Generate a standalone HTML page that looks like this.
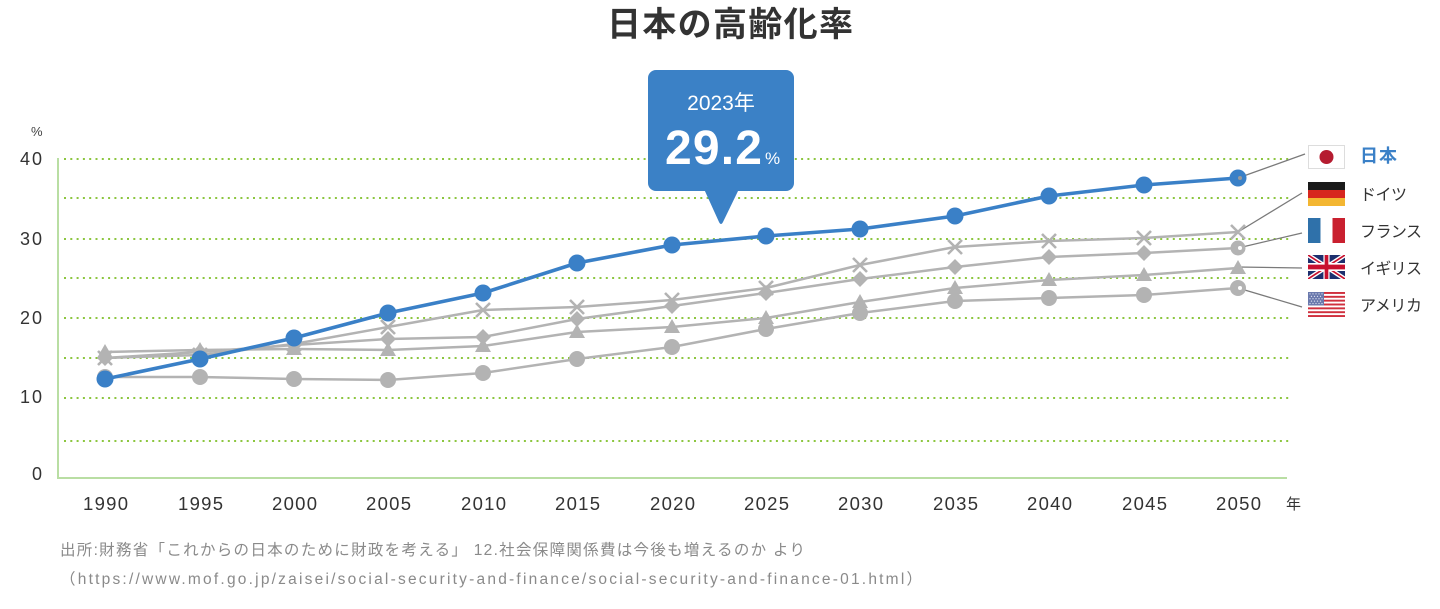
<!DOCTYPE html>
<html lang="ja">
<head>
<meta charset="utf-8">
<style>
  html,body{margin:0;padding:0;background:#fff;}
  body{width:1440px;height:609px;overflow:hidden;}
  svg{display:block;}
  text{font-family:"Liberation Sans","Noto Sans CJK JP",sans-serif;}
</style>
</head>
<body>
<svg width="1440" height="609" viewBox="0 0 1440 609" xmlns="http://www.w3.org/2000/svg">
  <!-- Title -->
  <text x="607" y="36" font-size="34" font-weight="bold" fill="#333" textLength="246" lengthAdjust="spacing">日本の高齢化率</text>

  <!-- gridlines -->
  <g stroke="#8cc63f" stroke-width="2" stroke-dasharray="2 4.3" fill="none">
    <line x1="64" y1="159" x2="1290" y2="159"/>
    <line x1="64" y1="198" x2="1290" y2="198"/>
    <line x1="64" y1="239" x2="1290" y2="239"/>
    <line x1="64" y1="278" x2="1290" y2="278"/>
    <line x1="64" y1="318" x2="1290" y2="318"/>
    <line x1="64" y1="358" x2="1290" y2="358"/>
    <line x1="64" y1="398" x2="1290" y2="398"/>
    <line x1="64" y1="441" x2="1290" y2="441"/>
  </g>
  <!-- axes -->
  <g stroke="#b9dea3" stroke-width="2" fill="none">
    <line x1="58" y1="158" x2="58" y2="478"/>
    <line x1="57" y1="478" x2="1287" y2="478"/>
  </g>

  <!-- Y labels -->
  <g font-size="18" fill="#333">
    <text x="31" y="136" font-size="13" fill="#444">%</text>
    <text x="20" y="165" textLength="22" lengthAdjust="spacing">40</text>
    <text x="20" y="245" textLength="22" lengthAdjust="spacing">30</text>
    <text x="20" y="324" textLength="22" lengthAdjust="spacing">20</text>
    <text x="20" y="403" textLength="22" lengthAdjust="spacing">10</text>
    <text x="32" y="480">0</text>
  </g>

  <!-- X labels -->
  <g font-size="18.5" fill="#333">
    <text x="83" y="510" textLength="45" lengthAdjust="spacing">1990</text>
    <text x="178" y="510" textLength="45" lengthAdjust="spacing">1995</text>
    <text x="272" y="510" textLength="45" lengthAdjust="spacing">2000</text>
    <text x="366" y="510" textLength="45" lengthAdjust="spacing">2005</text>
    <text x="461" y="510" textLength="45" lengthAdjust="spacing">2010</text>
    <text x="555" y="510" textLength="45" lengthAdjust="spacing">2015</text>
    <text x="650" y="510" textLength="45" lengthAdjust="spacing">2020</text>
    <text x="744" y="510" textLength="45" lengthAdjust="spacing">2025</text>
    <text x="838" y="510" textLength="45" lengthAdjust="spacing">2030</text>
    <text x="933" y="510" textLength="45" lengthAdjust="spacing">2035</text>
    <text x="1027" y="510" textLength="45" lengthAdjust="spacing">2040</text>
    <text x="1122" y="510" textLength="45" lengthAdjust="spacing">2045</text>
    <text x="1216" y="510" textLength="45" lengthAdjust="spacing">2050</text>
    <text x="1286" y="509" font-size="15">年</text>
  </g>

  <!-- connectors -->
  <g stroke="#7a7a7a" stroke-width="1.3" fill="none">
    <line x1="1238" y1="178" x2="1305" y2="154"/>
    <line x1="1238" y1="232" x2="1302" y2="193"/>
    <line x1="1238" y1="248" x2="1302" y2="233"/>
    <line x1="1238" y1="267" x2="1302" y2="268"/>
    <line x1="1238" y1="288" x2="1302" y2="307"/>
  </g>

  <!-- gray lines -->
  <g stroke="#b3b3b3" stroke-width="2.5" fill="none" stroke-linejoin="round">
    <polyline points="105,377 200,377 294,379 388,380 483,373 577,359 672,347 766,329 860,313 955,301 1049,298 1144,295 1238,288"/>
    <polyline points="105,352 200,350 294,349 388,350 483,346 577,332 672,327 766,318 860,302 955,288 1049,280 1144,275 1238,268"/>
    <polyline points="105,358 200,352 294,345 388,339 483,337 577,319 672,306 766,293 860,279 955,267 1049,257 1144,253 1238,248"/>
    <polyline points="105,358 200,355 294,344 388,327 483,310 577,307 672,300 766,288 860,265 955,247 1049,241 1144,238 1238,232"/>
  </g>

  <!-- USA markers -->
  <g fill="#b3b3b3">
    <circle cx="105" cy="377" r="8"/><circle cx="200" cy="377" r="8"/><circle cx="294" cy="379" r="8"/>
    <circle cx="388" cy="380" r="8"/><circle cx="483" cy="373" r="8"/><circle cx="577" cy="359" r="8"/>
    <circle cx="672" cy="347" r="8"/><circle cx="766" cy="329" r="8"/><circle cx="860" cy="313" r="8"/>
    <circle cx="955" cy="301" r="8"/><circle cx="1049" cy="298" r="8"/><circle cx="1144" cy="295" r="8"/>
    <circle cx="1238" cy="288" r="8"/>
  </g>
  <!-- UK markers -->
  <path fill="#b3b3b3" d="M105 344l8 14h-16zM200 342l8 14h-16zM294 341l8 14h-16zM388 342l8 14h-16zM483 338l8 14h-16zM577 324l8 14h-16zM672 319l8 14h-16zM766 310l8 14h-16zM860 294l8 14h-16zM955 280l8 14h-16zM1049 272l8 14h-16zM1144 267l8 14h-16zM1238 260l8 14h-16z"/>
  <!-- France markers -->
  <path fill="#b3b3b3" d="M105 350l8 8l-8 8l-8-8zM200 344l8 8l-8 8l-8-8zM294 337l8 8l-8 8l-8-8zM388 331l8 8l-8 8l-8-8zM483 329l8 8l-8 8l-8-8zM577 311l8 8l-8 8l-8-8zM672 298l8 8l-8 8l-8-8zM766 285l8 8l-8 8l-8-8zM860 271l8 8l-8 8l-8-8zM955 259l8 8l-8 8l-8-8zM1049 249l8 8l-8 8l-8-8zM1144 245l8 8l-8 8l-8-8z"/>
  <circle cx="1238" cy="248" r="7.5" fill="#b3b3b3"/>
  <!-- Germany markers -->
  <path stroke="#b3b3b3" stroke-width="2.6" fill="none" d="M98 351l14 14m0-14l-14 14M193 348l14 14m0-14l-14 14M287 337l14 14m0-14l-14 14M381 320l14 14m0-14l-14 14M476 303l14 14m0-14l-14 14M570 300l14 14m0-14l-14 14M665 293l14 14m0-14l-14 14M759 281l14 14m0-14l-14 14M853 258l14 14m0-14l-14 14M948 240l14 14m0-14l-14 14M1042 234l14 14m0-14l-14 14M1137 231l14 14m0-14l-14 14M1231 225l14 14m0-14l-14 14"/>

  <g fill="#fff">
    <circle cx="1240" cy="248" r="2"/>
    <circle cx="1240" cy="288" r="2"/>
  </g>

  <!-- Japan -->
  <polyline fill="none" stroke="#3a80c7" stroke-width="3.6" stroke-linejoin="round"
    points="105,379 200,359 294,338 388,313 483,293 577,263 672,245 766,236 860,229 955,216 1049,196 1144,185 1238,178"/>
  <g fill="#3a80c7">
    <circle cx="105" cy="379" r="8.5"/><circle cx="200" cy="359" r="8.5"/><circle cx="294" cy="338" r="8.5"/>
    <circle cx="388" cy="313" r="8.5"/><circle cx="483" cy="293" r="8.5"/><circle cx="577" cy="263" r="8.5"/>
    <circle cx="672" cy="245" r="8.5"/><circle cx="766" cy="236" r="8.5"/><circle cx="860" cy="229" r="8.5"/>
    <circle cx="955" cy="216" r="8.5"/><circle cx="1049" cy="196" r="8.5"/><circle cx="1144" cy="185" r="8.5"/>
    <circle cx="1238" cy="178" r="8.5"/>
  </g>
  <circle cx="1240" cy="178" r="2" fill="#9a9a9a"/>

  <!-- Callout -->
  <rect x="648" y="70" width="146" height="121" rx="8" fill="#3b81c6"/>
  <path d="M704 189 L739 189 L723 222 Q721 226 719 222 Z" fill="#3b81c6"/>
  <text x="721" y="110" font-size="21" fill="#fff" text-anchor="middle">2023年</text>
  <text x="665" y="164" font-size="48" font-weight="bold" fill="#fff" textLength="97" lengthAdjust="spacing">29.2</text>
  <text x="765" y="164" font-size="17" fill="#fff">%</text>

  <!-- Legend flags -->
  <rect x="1308.5" y="145.5" width="36" height="23" fill="#fff" stroke="#ddd" stroke-width="1"/>
  <circle cx="1326.5" cy="157" r="7" fill="#b51c30"/>
  <rect x="1308" y="182" width="37" height="8" fill="#1a1a1a"/>
  <rect x="1308" y="190" width="37" height="8" fill="#d7261e"/>
  <rect x="1308" y="198" width="37" height="8" fill="#f3b632"/>
  <rect x="1308" y="218" width="12.5" height="25" fill="#2f71aa"/>
  <rect x="1320.5" y="218" width="12" height="25" fill="#fff"/>
  <rect x="1332.5" y="218" width="12.5" height="25" fill="#c9202f"/>
  <svg x="1308" y="255" width="37" height="24" viewBox="0 0 60 30" preserveAspectRatio="none">
    <rect width="60" height="30" fill="#1d2f6e"/>
    <path d="M0,0 L60,30 M60,0 L0,30" stroke="#fff" stroke-width="6"/>
    <path d="M0,0 L60,30 M60,0 L0,30" stroke="#c8102e" stroke-width="2.2"/>
    <path d="M30,0 V30 M0,15 H60" stroke="#fff" stroke-width="10"/>
    <path d="M30,0 V30 M0,15 H60" stroke="#c8102e" stroke-width="6"/>
  </svg>
  <svg x="1308" y="292" width="37" height="25" viewBox="0 0 74 52" preserveAspectRatio="none">
    <rect width="74" height="52" fill="#fff"/>
    <g fill="#d0303e">
      <rect y="0" width="74" height="4"/><rect y="8" width="74" height="4"/><rect y="16" width="74" height="4"/>
      <rect y="24" width="74" height="4"/><rect y="32" width="74" height="4"/><rect y="40" width="74" height="4"/>
      <rect y="48" width="74" height="4"/>
    </g>
    <rect width="32" height="28" fill="#6a79ad"/>
    <g fill="#dfe3ef">
      <circle cx="4" cy="4" r="1.3"/><circle cx="10" cy="4" r="1.3"/><circle cx="16" cy="4" r="1.3"/><circle cx="22" cy="4" r="1.3"/><circle cx="28" cy="4" r="1.3"/>
      <circle cx="7" cy="9" r="1.3"/><circle cx="13" cy="9" r="1.3"/><circle cx="19" cy="9" r="1.3"/><circle cx="25" cy="9" r="1.3"/>
      <circle cx="4" cy="14" r="1.3"/><circle cx="10" cy="14" r="1.3"/><circle cx="16" cy="14" r="1.3"/><circle cx="22" cy="14" r="1.3"/><circle cx="28" cy="14" r="1.3"/>
      <circle cx="7" cy="19" r="1.3"/><circle cx="13" cy="19" r="1.3"/><circle cx="19" cy="19" r="1.3"/><circle cx="25" cy="19" r="1.3"/>
      <circle cx="4" cy="24" r="1.3"/><circle cx="10" cy="24" r="1.3"/><circle cx="16" cy="24" r="1.3"/><circle cx="22" cy="24" r="1.3"/><circle cx="28" cy="24" r="1.3"/>
    </g>
  </svg>

  <!-- Legend labels -->
  <text x="1360" y="162" font-size="18" font-weight="bold" fill="#3a80c7" textLength="37" lengthAdjust="spacing">日本</text>
  <g font-size="16" fill="#333">
    <text x="1360" y="200" textLength="47" lengthAdjust="spacing">ドイツ</text>
    <text x="1360" y="237" textLength="62" lengthAdjust="spacing">フランス</text>
    <text x="1360" y="274" textLength="62" lengthAdjust="spacing">イギリス</text>
    <text x="1360" y="311" textLength="62" lengthAdjust="spacing">アメリカ</text>
  </g>

  <!-- Footer -->
  <g font-size="15.5" fill="#8a8a8a">
    <text x="60" y="555" textLength="745" lengthAdjust="spacing">出所:財務省「これからの日本のために財政を考える」 12.社会保障関係費は今後も増えるのか より</text>
    <text x="60" y="584" textLength="862" lengthAdjust="spacing">（https://www.mof.go.jp/zaisei/social-security-and-finance/social-security-and-finance-01.html）</text>
  </g>
</svg>
</body>
</html>
